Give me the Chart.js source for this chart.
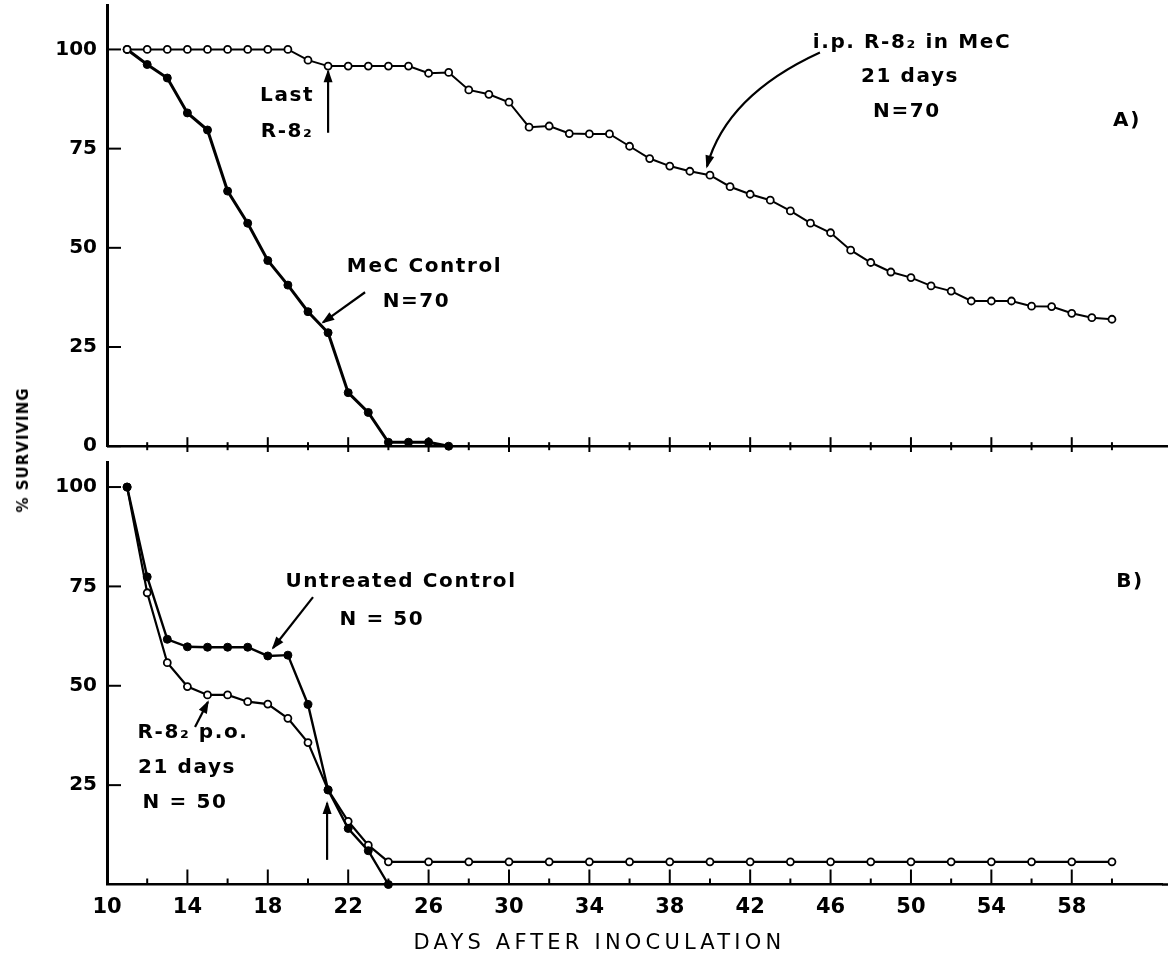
<!DOCTYPE html>
<html>
<head>
<meta charset="utf-8">
<script src="https://cdn.jsdelivr.net/npm/chart.js@4"></script>
<style>
  body { margin: 0; background: #fff; }
  #wrap { position: relative; width: 1168px; height: 961px; }
  #top { position: absolute; left: 0; top: 0; }
  #bot { position: absolute; left: 0; top: 452px; }
  #ytitle {
    position: absolute; left: 23px; top: 450px;
    transform: translate(-50%, -50%) rotate(-90deg);
    font: bold 15px "DejaVu Sans"; letter-spacing: 1px; white-space: nowrap; color: #000;
  }
</style>
</head>
<body>
<div id="wrap">
  <canvas id="top" width="1168" height="452"></canvas>
  <canvas id="bot" width="1168" height="509"></canvas>
  <div id="ytitle">% SURVIVING</div>
</div>
<script>
// ---- data (days after inoculation, % surviving) ----
const ipDays = [11,12,13,14,15,16,17,18,19,20,21,22,23,24,25,26,27,28,29,30,
                31,32,33,34,35,36,37,38,39,40,41,42,43,44,45,46,47,48,49,50,
                51,52,53,54,55,56,57,58,59,60];
const ipR82 = [100,100,100,100,100,100,100,100,100,97.3,95.8,95.8,95.8,95.8,95.8,94,94.2,89.8,88.7,86.7,
               80.4,80.7,78.8,78.7,78.7,75.6,72.5,70.6,69.3,68.3,65.4,63.5,62,59.3,56.2,53.8,49.4,46.3,43.9,42.5,
               40.4,39.1,36.6,36.6,36.6,35.3,35.2,33.5,32.4,32];

const mecDays = [11,12,13,14,15,16,17,18,19,20,21,22,23,24,25,26,27];
const mecControl = [100,96.2,92.8,84,79.7,64.3,56.2,46.8,40.6,33.9,28.6,13.5,8.5,1,1,1,0];

const untreatedDays = [11,12,13,14,15,16,17,18,19,20,21,22,23,24];
const untreated = [100,77.4,61.7,59.8,59.7,59.7,59.7,57.5,57.7,45.3,23.8,14.1,8.5,0];

const poDays = [11,12,13,14,15,16,17,18,19,20,21,22,23,24,26,28,30,32,34,36,38,40,42,44,46,48,50,52,54,56,58,60];
const r82po = [100,73.4,55.8,49.8,47.7,47.7,46,45.4,41.8,35.7,23.8,15.9,9.9,5.7,5.7,5.7,5.7,5.7,5.7,5.7,
               5.7,5.7,5.7,5.7,5.7,5.7,5.7,5.7,5.7,5.7,5.7,5.7];

const xTickLabels = [10,14,18,22,26,30,34,38,42,46,50,54,58];
const xMajorMarks = [14,18,22,26,30,34,38,42,46,50,54,58];
const xMinorMarks = [12,16,20,24,28,32,36,40,44,48,52,56,60];
const yTicksA = [0,25,50,75,100];
const yTicksB = [25,50,75,100];

// ---- annotations (in data units) ----
const notesA = [
  {text: 'Last', x: 18.96, y: 88.2},
  {text: 'R-8₂', x: 18.96, y: 79.3},
  {text: 'MeC Control', x: 25.8, y: 45.3},
  {text: 'N=70', x: 25.4, y: 36.3},
  {text: 'i.p. R-8₂ in MeC', x: 50.05, y: 101.8},
  {text: '21 days', x: 49.95, y: 93.2},
  {text: 'N=70', x: 49.8, y: 84.4},
  {text: 'A)', x: 60.75, y: 81.9}
];
const arrowsA = [
  {from: [21, 79], to: [21, 94.5]},
  {from: [22.84, 38.8], to: [20.75, 31.2]},
  {from: [45.47, 99.2], ctrl: [40.82, 88.4], to: [39.85, 70.5]}
];
const notesB = [
  {text: 'Untreated Control', x: 24.63, y: 76.1},
  {text: 'N = 50', x: 23.68, y: 66.5},
  {text: 'R-8₂ p.o.', x: 14.28, y: 38.1},
  {text: '21 days', x: 13.98, y: 29.3},
  {text: 'N = 50', x: 13.88, y: 20.5},
  {text: 'B)', x: 60.9, y: 76.1}
];
const arrowsB = [
  {from: [20.25, 72.3], to: [18.26, 59.5]},
  {from: [14.38, 39.6], to: [15.02, 45.9]},
  {from: [20.95, 6.2], to: [20.95, 20.5]}
];

const X_MIN = 10, X_MAX = 62.5;
const FONT = 'DejaVu Sans';

function pts(days, vals) { return days.map((d, i) => ({x: d, y: vals[i]})); }

function openSeries(days, vals, w) {
  return {data: pts(days, vals), borderColor: '#000', borderWidth: w, pointRadius: 3.5,
          pointBackgroundColor: '#fff', pointBorderColor: '#000', pointBorderWidth: 1.8,
          tension: 0, clip: false};
}
function filledSeries(days, vals, w) {
  return {data: pts(days, vals), borderColor: '#000', borderWidth: w, pointRadius: 4,
          pointBackgroundColor: '#000', pointBorderColor: '#000', pointBorderWidth: 1,
          tension: 0, clip: false};
}

function drawArrow(ctx, xs, ys, a) {
  const p0 = [xs.getPixelForValue(a.from[0]), ys.getPixelForValue(a.from[1])];
  const p1 = [xs.getPixelForValue(a.to[0]), ys.getPixelForValue(a.to[1])];
  ctx.lineWidth = 2.2;
  ctx.beginPath();
  ctx.moveTo(p0[0], p0[1]);
  let dir;
  if (a.ctrl) {
    const c = [xs.getPixelForValue(a.ctrl[0]), ys.getPixelForValue(a.ctrl[1])];
    ctx.quadraticCurveTo(c[0], c[1], p1[0], p1[1]);
    dir = [p1[0] - c[0], p1[1] - c[1]];
  } else {
    ctx.lineTo(p1[0], p1[1]);
    dir = [p1[0] - p0[0], p1[1] - p0[1]];
  }
  ctx.stroke();
  const len = Math.hypot(dir[0], dir[1]);
  const ux = dir[0] / len, uy = dir[1] / len;
  const hl = 11, hw = 4.5;
  ctx.beginPath();
  ctx.moveTo(p1[0] + ux * 2, p1[1] + uy * 2);
  ctx.lineTo(p1[0] - ux * hl - uy * hw, p1[1] - uy * hl + ux * hw);
  ctx.lineTo(p1[0] - ux * hl + uy * hw, p1[1] - uy * hl - ux * hw);
  ctx.closePath();
  ctx.fill();
}

const decor = {
  id: 'decor',
  afterDraw(chart, args, o) {
    const {ctx, chartArea} = chart;
    const xs = chart.scales.x, ys = chart.scales.y;
    ctx.save();
    ctx.strokeStyle = '#000';
    ctx.fillStyle = '#000';
    // inward y tick marks
    ctx.lineWidth = 2;
    o.yTicks.forEach(v => {
      const py = ys.getPixelForValue(v);
      ctx.beginPath(); ctx.moveTo(chartArea.left, py); ctx.lineTo(chartArea.left + 14, py); ctx.stroke();
    });
    const y0 = ys.getPixelForValue(0);
    if (!o.bottom) {
      ctx.lineWidth = 2.5;
      ctx.beginPath(); ctx.moveTo(chartArea.left, y0); ctx.lineTo(chart.width, y0); ctx.stroke();
    }
    ctx.lineWidth = 2;
    const mark = (d, up, down) => {
      const px = xs.getPixelForValue(d);
      ctx.beginPath(); ctx.moveTo(px, y0 - up); ctx.lineTo(px, y0 + down); ctx.stroke();
    };
    if (o.bottom) {
      ctx.lineWidth = 2.5;
      ctx.beginPath(); ctx.moveTo(chartArea.right, y0); ctx.lineTo(chart.width, y0); ctx.stroke();
      ctx.lineWidth = 2;
      xMajorMarks.forEach(d => mark(d, 15, 0));
      xMinorMarks.forEach(d => mark(d, 6, 0));
    } else {
      xMajorMarks.forEach(d => mark(d, 9, 9));
      xMinorMarks.forEach(d => mark(d, 4, 4));
    }
    // labels
    ctx.font = 'bold 20px "' + FONT + '"';
    ctx.letterSpacing = '1.6px';
    ctx.textAlign = 'center';
    ctx.textBaseline = 'middle';
    o.notes.forEach(n => ctx.fillText(n.text, xs.getPixelForValue(n.x), ys.getPixelForValue(n.y)));
    o.arrows.forEach(a => drawArrow(ctx, xs, ys, a));
    if (o.bottom) {
      ctx.font = '21px "' + FONT + '"';
      ctx.letterSpacing = '4.2px';
      ctx.fillText('DAYS AFTER INOCULATION', xs.getPixelForValue(34.5), chartArea.bottom + 59);
    }
    ctx.restore();
  }
};

function panel(id, datasets, yMax, yTicks, bottom, notes, arrows) {
  return new Chart(document.getElementById(id), {
    type: 'line',
    data: {datasets: datasets},
    options: {
      responsive: false,
      animation: false,
      layout: {padding: bottom ? {top: 10, bottom: 0, left: 0, right: 0} : {top: 5, bottom: 5, left: 0, right: 0}},
      plugins: {
        legend: {display: false},
        tooltip: {enabled: false},
        decor: {yTicks: yTicks, bottom: bottom, notes: notes, arrows: arrows}
      },
      scales: {
        x: {
          type: 'linear', min: X_MIN, max: X_MAX, display: bottom,
          afterBuildTicks: s => { s.ticks = xTickLabels.map(v => ({value: v})); },
          afterFit: s => {
            s.height = bottom ? 76.5 : 0;
            s.paddingLeft = 0; s.paddingRight = 0;
          },
          grid: {display: false, drawTicks: false},
          border: {display: true, color: '#000', width: 2.5},
          ticks: {color: '#000', font: {family: FONT, size: 21, weight: 'bold'}, padding: 10,
                  maxRotation: 0, autoSkip: false}
        },
        y: {
          min: 0, max: yMax,
          afterBuildTicks: s => { s.ticks = yTicks.map(v => ({value: v})); },
          afterFit: s => { s.width = 107; s.paddingTop = 0; s.paddingBottom = 0; },
          grid: {display: false, drawTicks: false},
          border: {display: true, color: '#000', width: 3},
          ticks: {color: '#000', font: {family: FONT, size: 20, weight: 'bold'}, padding: 10}
        }
      }
    },
    plugins: [decor]
  });
}

panel('top', [
  openSeries(ipDays, ipR82, 2),
  filledSeries(mecDays, mecControl, 3)
], 111, yTicksA, false, notesA, arrowsA);

panel('bot', [
  filledSeries(untreatedDays, untreated, 2.4),
  openSeries(poDays, r82po, 2.2)
], 106.3, yTicksB, true, notesB, arrowsB);
</script>
</body>
</html>
